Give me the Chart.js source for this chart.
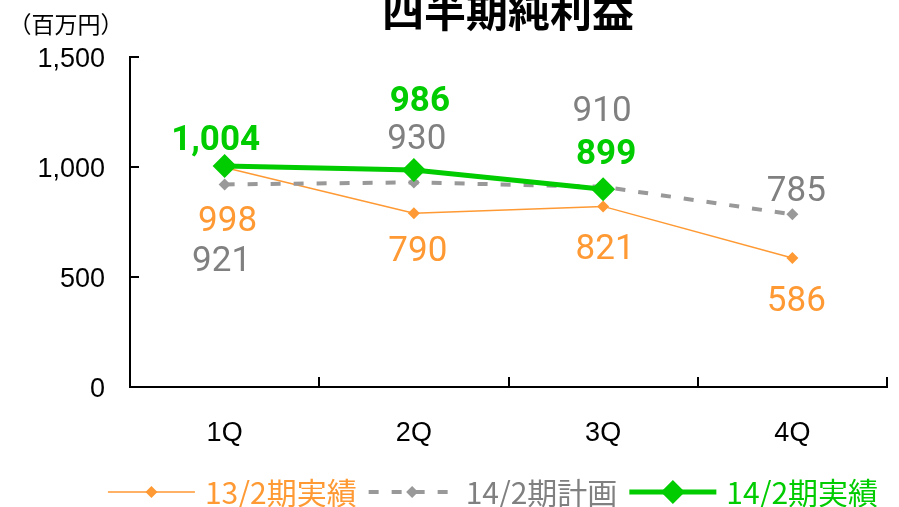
<!DOCTYPE html>
<html><head><meta charset="utf-8">
<script src="https://cdn.jsdelivr.net/npm/chart.js@4/dist/chart.umd.min.js"></script>
<style>html,body{margin:0;padding:0;background:#fff;} #wrap{width:899px;height:507px;}</style>
</head><body><div id="wrap"><canvas id="c" width="899" height="507"></canvas></div>
<script>
// ---- data ----
const categories = ['1Q', '2Q', '3Q', '4Q'];
const seriesNames = ['13/2期実績', '14/2期計画', '14/2期実績'];
const actual13 = [998, 790, 821, 586];
const plan14 = [921, 930, 910, 785];
const actual14 = [1004, 986, 899, null];
const yTickValues = [0, 500, 1000, 1500];
const chartTitle = '四半期純利益';
const unitLabel = '（百万円）';

// ---- styles ----
const ORANGE = '#FF9933', GRAY_LINE = '#999999', GRAY_TEXT = '#808080', GREEN = '#00CC00';
const CJK = '"Noto Sans CJK JP", "Noto Sans", sans-serif';
const NUM = 'Roboto, "Liberation Sans", sans-serif';
const AXIS = '"Liberation Sans", Arial, sans-serif';

// label placement (styling only): offsets from the point, px
const labelStyle = [
  { color: ORANGE, weight: 'normal', dx: [3, 4, 2, 4], dy: [64, 48, 53, 53] },
  { color: GRAY_TEXT, weight: 'normal', dx: [-3, 3, -1, 4], dy: [87, -33, -66, -13] },
  { color: GREEN, weight: 'bold', dx: [-9, 6, 3, 0], dy: [-16, -59, -25, 0] }
];

const fmt = v => Number(v).toLocaleString('en-US');

const dataLabels = {
  id: 'dataLabels',
  afterDatasetsDraw(chart) {
    const ctx = chart.ctx;
    ctx.save();
    ctx.textAlign = 'center';
    ctx.textBaseline = 'alphabetic';
    chart.data.datasets.forEach((ds, di) => {
      const meta = chart.getDatasetMeta(di);
      const st = labelStyle[di];
      ctx.fillStyle = st.color;
      ctx.font = st.weight + ' 35px ' + NUM;
      meta.data.forEach((pt, i) => {
        const v = ds.data[i];
        if (v === null || v === undefined) return;
        ctx.fillText(fmt(v), pt.x + st.dx[i], pt.y + st.dy[i]);
      });
    });
    ctx.restore();
  }
};

function diamond(ctx, x, y, r, color) {
  ctx.beginPath();
  ctx.moveTo(x - r, y); ctx.lineTo(x, y - r); ctx.lineTo(x + r, y); ctx.lineTo(x, y + r);
  ctx.closePath();
  ctx.fillStyle = color; ctx.fill();
}

const decor = {
  id: 'decor',
  afterDraw(chart) {
    const ctx = chart.ctx;
    const ca = chart.chartArea;
    const xs = chart.scales.x, ys = chart.scales.y;
    ctx.save();
    // inward tick marks
    ctx.strokeStyle = '#000'; ctx.lineWidth = 2;
    ys.ticks.forEach(t => {
      if (t.value === 0) return;
      const y = Math.round(ys.getPixelForValue(t.value));
      ctx.beginPath(); ctx.moveTo(ca.left, y); ctx.lineTo(ca.left + 9, y); ctx.stroke();
    });
    for (let i = 0; i < categories.length; i++) {
      const x = Math.round(xs.getPixelForValue(i + 0.5));
      ctx.beginPath(); ctx.moveTo(x, ca.bottom); ctx.lineTo(x, ca.bottom - 10); ctx.stroke();
    }
    // title
    ctx.fillStyle = '#000';
    ctx.textAlign = 'center'; ctx.textBaseline = 'middle';
    ctx.font = 'bold 42px ' + CJK;
    ctx.fillText(chartTitle, 508, 11);
    // unit
    ctx.font = '23px ' + CJK;
    ctx.fillText(unitLabel, 66, 24);
    // legend
    const entries = chart.data.datasets.map((ds, i) => ({
      text: seriesNames[i], color: ds.borderColor, width: ds.borderWidth,
      dash: ds.borderDash || [], r: ds.pointRadius, textColor: labelStyle[i].color
    }));
    ctx.font = '30px ' + CJK;
    const lineLen = 87, gap1 = 10, gap2 = 12;
    let total = 0;
    entries.forEach((e, i) => { e.tw = ctx.measureText(e.text).width; total += lineLen + gap1 + e.tw + (i ? gap2 : 0); });
    let x = 493 - total / 2;
    const ly = 492;
    entries.forEach((e, i) => {
      if (i) x += gap2;
      ctx.strokeStyle = e.color; ctx.lineWidth = e.width; ctx.setLineDash(e.dash);
      ctx.beginPath(); ctx.moveTo(x, ly); ctx.lineTo(x + lineLen, ly); ctx.stroke();
      ctx.setLineDash([]);
      diamond(ctx, x + lineLen / 2, ly, e.r, e.color);
      x += lineLen + gap1;
      ctx.fillStyle = e.textColor; ctx.textAlign = 'left'; ctx.textBaseline = 'middle';
      ctx.fillText(e.text, x, ly + 1);
      x += e.tw;
    });
    ctx.restore();
  }
};

new Chart(document.getElementById('c'), {
  type: 'line',
  data: {
    labels: categories,
    datasets: [
      { label: seriesNames[0], data: actual13, borderColor: ORANGE, backgroundColor: ORANGE,
        borderWidth: 1.5, pointStyle: 'rectRot', pointRadius: 6, pointBorderWidth: 0, tension: 0, order: 3 },
      { label: seriesNames[1], data: plan14, borderColor: GRAY_LINE, backgroundColor: GRAY_LINE,
        borderWidth: 4, borderDash: [10, 13], pointStyle: 'rectRot', pointRadius: 6, pointBorderWidth: 0, tension: 0, order: 2 },
      { label: seriesNames[2], data: actual14, borderColor: GREEN, backgroundColor: GREEN,
        borderWidth: 5, pointStyle: 'rectRot', pointRadius: 12, pointBorderWidth: 0, tension: 0, order: 1 }
    ]
  },
  options: {
    responsive: false,
    animation: false,
    devicePixelRatio: 1,
    layout: { padding: { left: 0, right: 12, top: 57, bottom: 0 } },
    plugins: { legend: { display: false }, title: { display: false }, tooltip: { enabled: false } },
    scales: {
      x: {
        offset: true,
        grid: { display: false, drawTicks: false },
        border: { display: true, color: '#000', width: 2 },
        ticks: { color: '#000', font: { family: AXIS, size: 27 }, padding: 30, maxRotation: 0 },
        afterFit(s) { s.height = 120; }
      },
      y: {
        min: 0, max: 1500,
        grid: { display: false, drawTicks: false },
        border: { display: true, color: '#000', width: 2 },
        afterBuildTicks(s) { s.ticks = yTickValues.map(v => ({ value: v })); },
        ticks: { color: '#000', font: { family: AXIS, size: 27 }, padding: 25, labelOffset: 3, callback: v => fmt(v) },
        afterFit(s) { s.width = 130; }
      }
    }
  },
  plugins: [dataLabels, decor]
});
</script></body></html>
